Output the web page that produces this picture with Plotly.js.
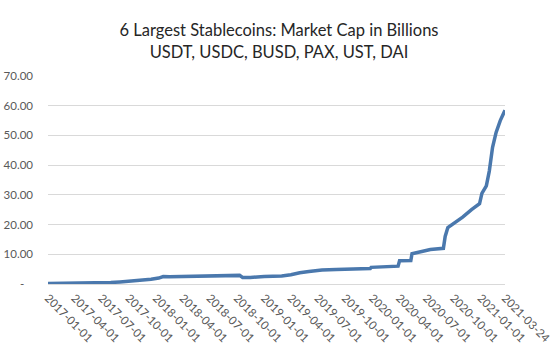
<!DOCTYPE html>
<html>
<head>
<meta charset="utf-8">
<script src="https://cdn.plot.ly/plotly-3.0.1.min.js"></script>
<style>html,body{margin:0;padding:0;background:#fff;}#chart{width:558px;height:353px;}</style>
</head>
<body>
<div id="chart"></div>
<script>
const dates = [
  "2017-01-01","2017-03-01","2017-04-01","2017-06-01","2017-07-01","2017-08-01","2017-09-01","2017-10-01",
  "2017-11-15","2017-12-15","2018-01-10","2018-01-25","2018-02-15","2018-04-01","2018-05-10","2018-05-25",
  "2018-07-01","2018-08-15","2018-10-10","2018-10-20","2018-11-15","2019-01-01","2019-03-01","2019-04-01",
  "2019-05-01","2019-06-01","2019-07-15","2019-09-01","2019-11-01","2019-12-25","2019-12-28","2020-02-15",
  "2020-03-28","2020-04-02","2020-05-10","2020-05-14","2020-06-15","2020-07-15","2020-08-28","2020-09-03",
  "2020-09-12","2020-10-05","2020-11-01","2020-12-01","2020-12-28","2021-01-05","2021-01-20","2021-01-30",
  "2021-02-10","2021-02-22","2021-03-08","2021-03-24"
];
const marketCap = [
  0.2,0.22,0.25,0.32,0.4,0.5,0.7,0.9,
  1.2,1.6,2.0,2.5,2.4,2.5,2.6,2.8,
  2.9,2.9,2.9,2.2,2.2,2.5,2.7,3.1,
  3.8,4.2,4.7,4.9,5.0,5.2,5.6,5.7,
  6.0,7.8,7.9,10.2,10.8,11.6,12.0,16.0,
  19.0,20.5,22.5,25.0,27.0,30.5,33.0,38.0,
  46.0,51.0,55.0,58.5
];
const xTickVals = ["2017-01-01","2017-04-01","2017-07-01","2017-10-01","2018-01-01","2018-04-01","2018-07-01","2018-10-01",
  "2019-01-01","2019-04-01","2019-07-01","2019-10-01","2020-01-01","2020-04-01","2020-07-01","2020-10-01","2021-01-01","2021-03-24"];
const yTickVals = [0,10,20,30,40,50,60,70];
const yTickText = ["-\u00a0\u00a0\u00a0","10.00","20.00","30.00","40.00","50.00","60.00","70.00"];
const titleText = "6 Largest Stablecoins: Market Cap in Billions<br>USDT, USDC, BUSD, PAX, UST, DAI";

const font = "Lato, 'Open Sans', sans-serif";
Plotly.newPlot("chart", [{
  x: dates, y: marketCap, type: "scatter", mode: "lines",
  line: {color: "#4a78ad", width: 3.5}, hoverinfo: "skip"
}], {
  width: 558, height: 353,
  margin: {l: 48, r: 53, t: 76, b: 69},
  paper_bgcolor: "#ffffff", plot_bgcolor: "#ffffff",
  showlegend: false,
  font: {family: font, color: "#595959"},
  title: {text: titleText, font: {family: font, size: 16.5, color: "#262626"},
    x: 0.5, xanchor: "center", y: 0.897, yanchor: "top", yref: "container"},
  xaxis: {type: "date", range: ["2017-01-01","2021-03-24"], tickvals: xTickVals, ticktext: xTickVals,
    tickangle: 45, tickfont: {size: 11.5, color: "#595959"}, showgrid: false, zeroline: false,
    showline: true, linecolor: "#d9d9d9", linewidth: 1, ticks: "", ticklabelstandoff: 2},
  yaxis: {range: [0, 70], tickvals: yTickVals, ticktext: yTickText, tickfont: {size: 11.5, color: "#595959"},
    showgrid: true, gridcolor: "#d9d9d9", gridwidth: 1, zeroline: false, showline: false, ticks: "",
    ticklabelstandoff: 14}
}, {staticPlot: true});
</script>
</body>
</html>
